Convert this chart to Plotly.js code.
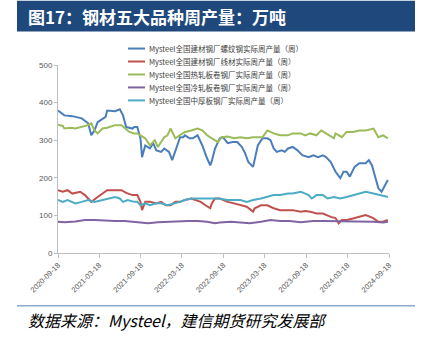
<!DOCTYPE html>
<html>
<head>
<meta charset="utf-8">
<script src="https://cdn.plot.ly/plotly-3.0.1.min.js"></script>
<style>html,body{margin:0;padding:0;background:#fff;}#chart{width:421px;height:339px;}</style>
</head>
<body>
<div id="chart"></div>
<script>
// weeks since 2020-09-18 and values (万吨)
var rebarWeeks = [0,4,9,15,19,21,23,25,30,31,36,39,41,43,47,48,50,52,53,55,58,60,62,65,67,70,72,74,77,79,80,83,85,88,91,94,96,97,99,102,104,107,110,113,116,118,120,123,124,126,129,132,134,136,138,141,143,145,148,151,154,156,158,161,164,167,169,172,175,178,180,182,184,187,190,194,196,198,200,202,204,206,208];
var rebarVals  = [379,366,364,358,345,313,326,348,362,379,377,382,366,335,331,335,335,305,255,286,278,292,273,269,278,269,247,273,308,308,313,305,305,313,286,252,233,245,278,305,308,292,295,295,282,265,242,229,247,286,305,305,300,278,269,273,269,278,282,273,260,258,255,260,255,260,255,242,216,199,216,216,203,229,239,239,247,233,199,172,163,180,194];

var wireWeeks = [0,3,6,9,14,17,19,21,25,28,31,36,40,43,47,50,52,53,55,58,62,65,68,71,74,77,80,84,87,90,93,96,97,99,102,107,111,115,119,123,124,128,132,136,140,145,148,153,156,159,163,167,172,175,177,179,182,186,190,194,197,199,202,205,208];
var wireVals  = [167,163,167,158,163,154,145,136,149,158,167,167,167,160,154,154,136,114,136,136,132,136,127,127,136,136,141,145,141,136,127,119,132,145,145,136,132,127,123,110,119,127,127,119,114,114,114,110,112,110,105,105,96,93,79,88,88,92,96,101,96,92,83,83,88];

var hrcWeeks = [0,3,4,8,11,15,19,21,23,25,28,31,36,40,42,45,48,50,55,58,61,63,65,67,69,71,74,77,80,84,88,91,94,97,101,103,107,111,115,119,123,126,129,132,136,140,145,148,153,156,159,163,166,169,174,175,179,182,186,190,194,199,202,205,208];
var hrcVals  = [341,338,331,333,331,335,340,345,326,318,331,333,340,340,333,322,318,318,305,286,300,282,295,308,313,331,305,313,322,326,331,326,313,305,295,308,310,305,308,305,308,308,308,326,318,313,313,318,318,313,318,313,326,318,305,318,308,322,322,326,326,331,308,313,305];

var crcWeeks = [0,4,11,17,23,30,36,42,48,57,63,69,75,82,88,94,99,102,109,115,121,128,134,140,146,153,161,167,174,180,186,192,199,205,208];
var crcVals  = [83,82,84,88,88,86,85,85,83,79,82,83,85,85,85,83,79,81,83,81,79,83,88,85,85,82,85,85,85,85,85,83,83,81,83];

var plateWeeks = [0,3,6,11,15,19,23,28,31,36,39,41,44,48,50,52,55,58,62,65,69,74,77,80,84,88,92,96,101,107,111,115,119,123,128,132,136,140,145,148,153,156,158,160,163,167,170,174,178,182,186,190,194,199,203,207,208];
var plateVals  = [141,136,141,132,136,141,136,141,145,149,145,136,141,136,136,127,132,127,132,132,127,132,136,141,145,145,145,145,145,141,141,141,136,141,145,149,154,154,158,158,163,158,154,145,154,154,145,149,145,149,154,158,163,158,154,149,149];

var seriesNames = [
  'Mysteel全国建材钢厂螺纹钢实际周产量（周）',
  'Mysteel全国建材钢厂线材实际周产量（周）',
  'Mysteel全国热轧板卷钢厂实际周产量（周）',
  'Mysteel全国冷轧板卷钢厂实际周产量（周）',
  'Mysteel全国中厚板钢厂实际周产量（周）'
];
var seriesColors = ['#4a7ebb','#c0504d','#9bbb59','#8064a2','#4bacc6'];

var tickDates = ['2020-09-18','2021-03-18','2021-09-18','2022-03-18','2022-09-18','2023-03-18','2023-09-18','2024-03-18','2024-09-18'];

var titleText = '图17：钢材五大品种周产量：万吨';
var sourceText = '数据来源：Mysteel，建信期货研究发展部';

function weeksToDates(ws){
  var base = Date.UTC(2020,8,18);
  return ws.map(function(w){
    var d = new Date(base + w*7*86400000);
    return d.toISOString().slice(0,10);
  });
}

var weekSets = [rebarWeeks, wireWeeks, hrcWeeks, crcWeeks, plateWeeks];
var valSets = [rebarVals, wireVals, hrcVals, crcVals, plateVals];

var traces = weekSets.map(function(ws,i){
  return {
    type:'scatter', mode:'lines',
    x: weeksToDates(ws), y: valSets[i],
    name: seriesNames[i], showlegend:false,
    line:{color:seriesColors[i], width:2}
  };
});

var W=421,H=339,L=58,R=32,T=64.5,B=86;
var pw=W-L-R, ph=H-T-B;
function px(x){return (x-L)/pw;}
function py(y){return (H-B-y)/ph;}

var shapes = [
  {type:'rect', xref:'paper', yref:'paper', x0:px(17), x1:px(415), y0:py(31), y1:py(0),
    fillcolor:'#1f497d', line:{width:0}, layer:'below'},
  {type:'line', xref:'paper', yref:'paper', x0:px(17), x1:px(415), y0:py(306), y1:py(306),
    line:{color:'#8eaad0', width:1.5}}
];
var annotations = [
  {xref:'paper', yref:'paper', x:px(26), y:py(15.5), xanchor:'left', yanchor:'middle',
    text:'<b>'+titleText+'</b>', showarrow:false,
    font:{size:17, color:'#ffffff', family:'"Noto Sans CJK SC", sans-serif'}},
  {xref:'paper', yref:'paper', x:px(26), y:py(320), xanchor:'left', yanchor:'middle',
    text:'<i>'+sourceText+'</i>', showarrow:false,
    font:{size:16, color:'#000000', family:'"Noto Sans CJK SC", sans-serif'}}
];
// legend (drawn as shapes + text)
seriesNames.forEach(function(n,i){
  var yy = 48 + i*13;
  shapes.push({type:'line', xref:'paper', yref:'paper', x0:px(128), x1:px(145), y0:py(yy), y1:py(yy),
    line:{color:seriesColors[i], width:2}});
  annotations.push({xref:'paper', yref:'paper', x:px(147), y:py(yy), xanchor:'left', yanchor:'middle',
    text:n, showarrow:false,
    font:{size:7.5, color:'#404040', family:'"Noto Sans CJK SC", "Liberation Sans", sans-serif'}});
});

var layout = {
  width:W, height:H,
  margin:{l:L,r:R,t:T,b:B,pad:0},
  paper_bgcolor:'#ffffff', plot_bgcolor:'#ffffff',
  showlegend:false,
  xaxis:{type:'date', range:['2020-09-18','2024-09-18'],
    tickvals:tickDates, ticktext:tickDates, tickangle:-45,
    tickfont:{size:7.5, color:'#595959', family:'"Liberation Sans", Arial, sans-serif'},
    showline:true, linecolor:'#bfbfbf', linewidth:1, ticks:'outside', ticklen:4, tickcolor:'#bfbfbf',
    showgrid:false, zeroline:false, fixedrange:true},
  yaxis:{range:[0,500], tickvals:[0,100,200,300,400,500],
    tickfont:{size:8, color:'#595959', family:'"Liberation Sans", Arial, sans-serif'},
    showline:true, linecolor:'#bfbfbf', linewidth:1, ticks:'outside', ticklen:3, tickcolor:'#bfbfbf',
    showgrid:false, zeroline:false, fixedrange:true},
  shapes:shapes,
  annotations:annotations
};

Plotly.newPlot('chart', traces, layout, {staticPlot:true, displayModeBar:false});
</script>
</body>
</html>
